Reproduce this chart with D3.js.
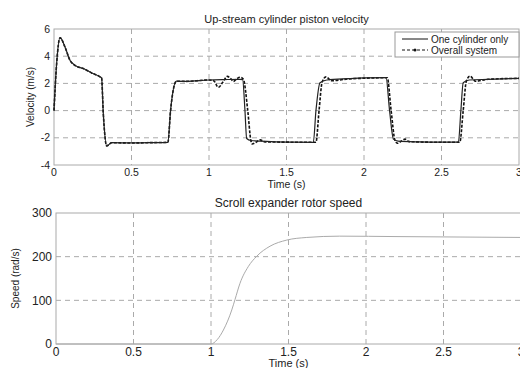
<!DOCTYPE html>
<html lang="en">
<head>
<meta charset="UTF-8">
<script src="https://d3js.org/d3.v7.min.js"></script>
<style>
  body { margin: 0; background: #fff; }
  text { font-family: "Liberation Sans", Arial, sans-serif; fill: #222; }
</style>
</head>
<body>
<svg id="chart" width="520" height="368"></svg>
<script>
// top panel: piston velocity
const timeOne = [0,0.017,0.039,0.071,0.103,0.135,0.189,0.243,0.297,0.307,0.318,0.34,0.372,0.5,0.6,0.735,0.752,0.79,0.85,1.0,1.1,1.2,1.217,1.232,1.243,1.27,1.4,1.55,1.673,1.69,1.716,1.76,1.9,2.0,2.142,2.165,2.19,2.22,2.35,2.5,2.609,2.625,2.64,2.68,2.8,3.0];
const velOne  = [0,3.46,5.36,4.67,3.7,3.33,3.09,2.77,2.48,2.4,-0.2,-2.6,-2.36,-2.38,-2.36,-2.33,0,2.16,2.15,2.25,2.28,2.3,2.28,0,-2.05,-2.2,-2.28,-2.32,-2.33,0,2.05,2.25,2.35,2.4,2.42,0,-2.1,-2.25,-2.3,-2.32,-2.32,0,2.05,2.25,2.3,2.37];
const timeAll = [0,0.017,0.039,0.071,0.103,0.135,0.189,0.243,0.297,0.307,0.318,0.34,0.372,0.5,0.6,0.735,0.752,0.79,0.85,1.0,1.03,1.06,1.09,1.118,1.14,1.157,1.18,1.2,1.222,1.25,1.27,1.278,1.3,1.33,1.36,1.5,1.69,1.71,1.73,1.755,1.79,1.9,2.0,2.15,2.175,2.2,2.215,2.24,2.265,2.29,2.5,2.618,2.64,2.66,2.684,2.72,2.8,3.0];
const velAll  = [0,3.46,5.36,4.67,3.7,3.33,3.09,2.77,2.48,2.4,-0.2,-2.6,-2.36,-2.38,-2.36,-2.33,0,2.16,2.15,2.25,2.2,1.71,2.1,2.52,2.35,2.15,2.35,2.45,2.3,0,-2.2,-2.45,-2.35,-2.15,-2.3,-2.32,-2.33,0,2.1,2.48,2.2,2.33,2.38,2.42,0,-2.2,-2.4,-2.25,-2.1,-2.28,-2.33,-2.33,0,2.15,2.53,2.16,2.3,2.37];
const velTicks = [-4,-2,0,2,4,6];

// bottom panel: rotor speed
const timeSpeed = [0,1.0,1.04,1.08,1.134,1.155,1.187,1.24,1.295,1.381,1.489,1.618,1.83,2.2,2.6,3.0];
const speed     = [0,0,10,32,78,102,139,177,201,224,238,244,247,246,245,244];
const speedTicks = [0,100,200,300];

const timeTicks = [0,0.5,1,1.5,2,2.5,3];

const svg = d3.select("#chart");

function panel(opt) {
  const x = d3.scaleLinear().domain([0,3]).range([opt.left, opt.right]);
  const y = d3.scaleLinear().domain(opt.yDomain).range([opt.bottom, opt.top]);
  const g = svg.append("g");

  // dashed grid
  g.selectAll(".vg").data(timeTicks.slice(1, -1)).enter().append("line")
    .attr("x1", d => x(d)).attr("x2", d => x(d))
    .attr("y1", opt.top).attr("y2", opt.bottom)
    .attr("stroke", "#aaa").attr("stroke-dasharray", "5,4");
  g.selectAll(".hg").data(opt.yTicks.slice(1, -1)).enter().append("line")
    .attr("x1", opt.left).attr("x2", opt.right)
    .attr("y1", d => y(d)).attr("y2", d => y(d))
    .attr("stroke", "#aaa").attr("stroke-dasharray", "5,4");

  // box
  g.append("rect")
    .attr("x", opt.left).attr("y", opt.top)
    .attr("width", opt.right - opt.left).attr("height", opt.bottom - opt.top)
    .attr("fill", "none").attr("stroke", "#aaa");

  // tick labels
  g.selectAll(".xt").data(timeTicks).enter().append("text")
    .attr("x", d => x(d)).attr("y", opt.bottom + opt.xtDy)
    .attr("text-anchor", "middle").attr("font-size", opt.fs)
    .text(d => d);
  g.selectAll(".yt").data(opt.yTicks).enter().append("text")
    .attr("x", opt.left - 4).attr("y", d => y(d) + opt.fs * 0.35)
    .attr("text-anchor", "end").attr("font-size", opt.fs)
    .text(d => d);

  g.append("text")
    .attr("x", (opt.left + opt.right) / 2).attr("y", opt.top - 6)
    .attr("text-anchor", "middle").attr("font-size", opt.titleFs)
    .text(opt.title);
  g.append("text")
    .attr("x", (opt.left + opt.right) / 2).attr("y", opt.bottom + opt.xlDy)
    .attr("text-anchor", "middle").attr("font-size", opt.xlFs)
    .text("Time (s)");
  g.append("text")
    .attr("transform", `translate(${opt.ylX},${(opt.top + opt.bottom) / 2}) rotate(-90)`)
    .attr("text-anchor", "middle").attr("font-size", 10)
    .text(opt.ylabel);

  return { x, y, g };
}

// --- top ---
const upper = panel({
  left: 54, right: 519, top: 29, bottom: 165,
  yDomain: [-4, 6], yTicks: velTicks, fs: 10.5, titleFs: 11,
  xtDy: 10.5, xlDy: 22.5, xlFs: 10.5, ylX: 34,
  title: "Up-stream cylinder piston velocity", ylabel: "Velocity (m/s)"
});

const lineTop = d3.line()
  .x(d => upper.x(d[0])).y(d => upper.y(d[1]))
  .curve(d3.curveMonotoneX);

upper.g.append("path")
  .datum(d3.zip(timeAll, velAll))
  .attr("fill", "none").attr("stroke", "#111").attr("stroke-width", 1.6)
  .attr("stroke-dasharray", "3,1.5")
  .attr("d", lineTop);
upper.g.append("path")
  .datum(d3.zip(timeOne, velOne))
  .attr("fill", "none").attr("stroke", "#222").attr("stroke-width", 1.2)
  .attr("d", lineTop);

// legend
const lg = upper.g.append("g");
lg.append("rect").attr("x", 395).attr("y", 32).attr("width", 124).attr("height", 25)
  .attr("fill", "#fff").attr("stroke", "#999");
lg.append("line").attr("x1", 402).attr("x2", 428).attr("y1", 39).attr("y2", 39)
  .attr("stroke", "#111");
lg.append("line").attr("x1", 402).attr("x2", 428).attr("y1", 50).attr("y2", 50)
  .attr("stroke", "#111").attr("stroke-dasharray", "3,2");
lg.append("circle").attr("cx", 415).attr("cy", 50).attr("r", 1.5).attr("fill", "#111");
lg.append("text").attr("x", 431).attr("y", 42.5).attr("font-size", 10).text("One cylinder only");
lg.append("text").attr("x", 431).attr("y", 53.5).attr("font-size", 10).text("Overall system");

// --- bottom ---
const lower = panel({
  left: 56, right: 521, top: 213, bottom: 344,
  yDomain: [0, 300], yTicks: speedTicks, fs: 12, titleFs: 12,
  xtDy: 11.5, xlDy: 23, xlFs: 11, ylX: 19,
  title: "Scroll expander rotor speed", ylabel: "Speed (rad/s)"
});

lower.g.append("path")
  .datum(d3.zip(timeSpeed, speed))
  .attr("fill", "none").attr("stroke", "#aaa").attr("stroke-width", 1)
  .attr("d", d3.line().x(d => lower.x(d[0])).y(d => lower.y(d[1])).curve(d3.curveMonotoneX));
</script>
</body>
</html>
